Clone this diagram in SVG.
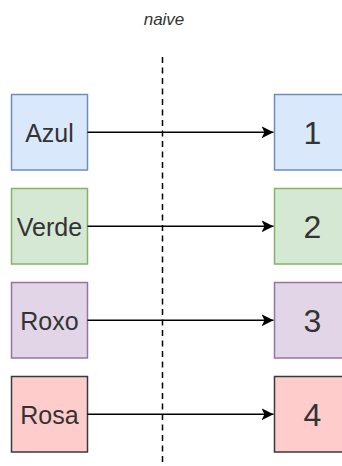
<svg xmlns="http://www.w3.org/2000/svg" width="342" height="466" viewBox="0 0 342 466">
<style>
text{font-family:"Liberation Sans",Arial,sans-serif;fill:#333;text-anchor:middle}
.lbl{font-size:25px}
.num{font-size:32px}
.b rect{stroke-width:1.5}
.blue{fill:#dae8fc;stroke:#6c8ebf}
.green{fill:#d5e8d4;stroke:#82b366}
.purple{fill:#e1d5e7;stroke:#9673a6}
.red{fill:#ffcccc;stroke:#36393d}
.edge{stroke:#000;stroke-width:1.5;fill:none}
</style>
<defs>
<marker id="arr" markerUnits="userSpaceOnUse" markerWidth="14" markerHeight="12" refX="12" refY="6" orient="auto">
<path d="M0,0 L12,6 L0,12 L3,6 Z" fill="#000"/>
</marker>
</defs>
<text x="164" y="25" style="font-size:17px;font-style:italic">naive</text>
<line x1="162.5" y1="57" x2="162.5" y2="466" stroke="#000" stroke-width="1.5" stroke-dasharray="6 4.5"/>
<g id="azul" class="b"><rect class="blue" x="11.5" y="94.5" width="76" height="75.5"/><text class="lbl" x="49.5" y="141.5">Azul</text></g>
<g id="verde" class="b"><rect class="green" x="11.5" y="188.5" width="76" height="75.5"/><text class="lbl" x="49.5" y="235.5">Verde</text></g>
<g id="roxo" class="b"><rect class="purple" x="11.5" y="282.5" width="76" height="75.5"/><text class="lbl" x="49.5" y="329.5">Roxo</text></g>
<g id="rosa" class="b"><rect class="red" x="11.5" y="376.5" width="76" height="75.5"/><text class="lbl" x="49.5" y="423.5">Rosa</text></g>
<g id="n1" class="b"><rect class="blue" x="274.5" y="94.5" width="76" height="75.5"/><text class="num" x="312.5" y="144">1</text></g>
<g id="n2" class="b"><rect class="green" x="274.5" y="188.5" width="76" height="75.5"/><text class="num" x="312.5" y="238">2</text></g>
<g id="n3" class="b"><rect class="purple" x="274.5" y="282.5" width="76" height="75.5"/><text class="num" x="312.5" y="332">3</text></g>
<g id="n4" class="b"><rect class="red" x="274.5" y="376.5" width="76" height="75.5"/><text class="num" x="312.5" y="426">4</text></g>
<g id="connectors">
<line class="edge" x1="87.5" y1="132.3" x2="273.5" y2="132.3" marker-end="url(#arr)"/>
<line class="edge" x1="87.5" y1="226.3" x2="273.5" y2="226.3" marker-end="url(#arr)"/>
<line class="edge" x1="87.5" y1="320.3" x2="273.5" y2="320.3" marker-end="url(#arr)"/>
<line class="edge" x1="87.5" y1="414.3" x2="273.5" y2="414.3" marker-end="url(#arr)"/>
</g>
</svg>
